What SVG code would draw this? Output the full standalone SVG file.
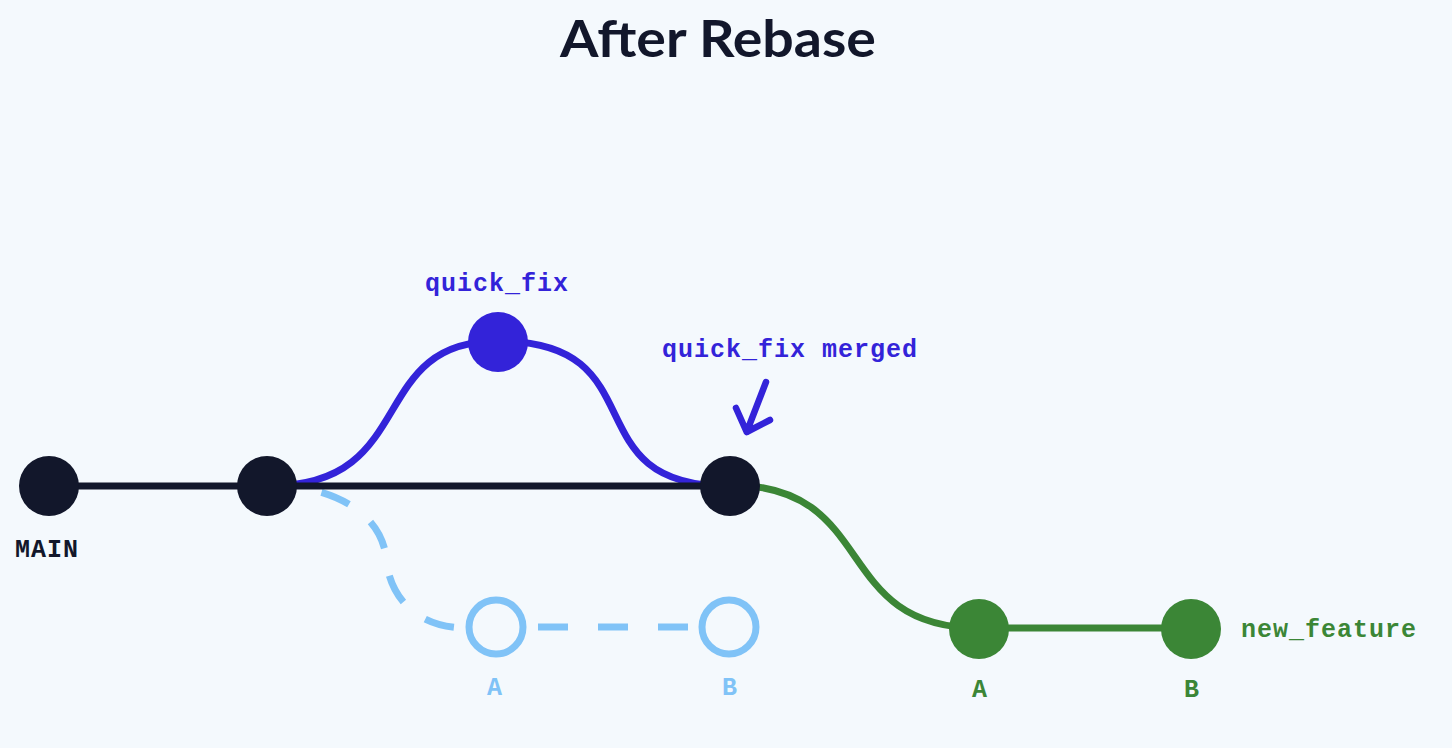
<svg xmlns="http://www.w3.org/2000/svg" width="1452" height="748" viewBox="0 0 1452 748">
<style>
.lbl{font-family:"Liberation Mono","DejaVu Sans Mono",monospace;font-weight:700;font-size:25px;letter-spacing:1px}
.title{font-family:Lato,"Liberation Sans",sans-serif;font-weight:700;font-size:52px;fill:#12172b}
.dark{fill:#12172b}
.blue{fill:#3323d9}
.green{fill:#3b8636}
.ghost{fill:none;stroke:#80c3f7;stroke-width:7}
</style>
<rect width="1452" height="748" fill="#f4f9fd"/>
<text class="title" x="718" y="57" text-anchor="middle" textLength="316" lengthAdjust="spacingAndGlyphs">After Rebase</text>
<g id="connectors" fill="none" stroke-width="7">
<path d="M 270 486 C 420 486, 365 341, 498 341 C 660 341, 570 486, 728 486" stroke="#3323d9"/>
<path d="M 730 485 C 880 485, 830 628, 979 628" stroke="#3b8636"/>
<path d="M 297 487 C 340 493, 380 515, 386 556 C 388 595, 415 628, 466 628" stroke="#80c3f7" stroke-dasharray="30 28" stroke-dashoffset="33"/>
<line x1="538" y1="627" x2="700" y2="627" stroke="#80c3f7" stroke-dasharray="30 30"/>
<line x1="48" y1="486" x2="730" y2="486" stroke="#12172b"/>
<line x1="979" y1="628" x2="1191" y2="628" stroke="#3b8636"/>
<path d="M 766 382 L 746.7 432 M 736 408 L 746.7 432 L 770 420" stroke="#3323d9" stroke-width="6.5" stroke-linecap="round" stroke-linejoin="round"/>
</g>
<g id="main1"><circle class="dark" cx="49" cy="486" r="30"/><text class="lbl dark" x="47" y="557" text-anchor="middle">MAIN</text></g>
<g id="main2"><circle class="dark" cx="267" cy="486" r="30"/></g>
<g id="quickfix"><circle class="blue" cx="498" cy="342" r="30"/><text class="lbl blue" x="497" y="291" text-anchor="middle">quick_fix</text></g>
<g id="merge"><circle class="dark" cx="730" cy="486" r="30"/><text class="lbl blue" x="790" y="357" text-anchor="middle">quick_fix merged</text></g>
<g id="oldA"><circle class="ghost" cx="496" cy="627" r="27"/><text class="lbl" fill="#80c3f7" x="495" y="695" text-anchor="middle">A</text></g>
<g id="oldB"><circle class="ghost" cx="729" cy="627" r="27"/><text class="lbl" fill="#80c3f7" x="730" y="695" text-anchor="middle">B</text></g>
<g id="newA"><circle class="green" cx="979" cy="629" r="30"/><text class="lbl green" x="980" y="697" text-anchor="middle">A</text></g>
<g id="newB"><circle class="green" cx="1191" cy="629" r="30"/><text class="lbl green" x="1192" y="697" text-anchor="middle">B</text><text class="lbl green" x="1241" y="637">new_feature</text></g>
</svg>
